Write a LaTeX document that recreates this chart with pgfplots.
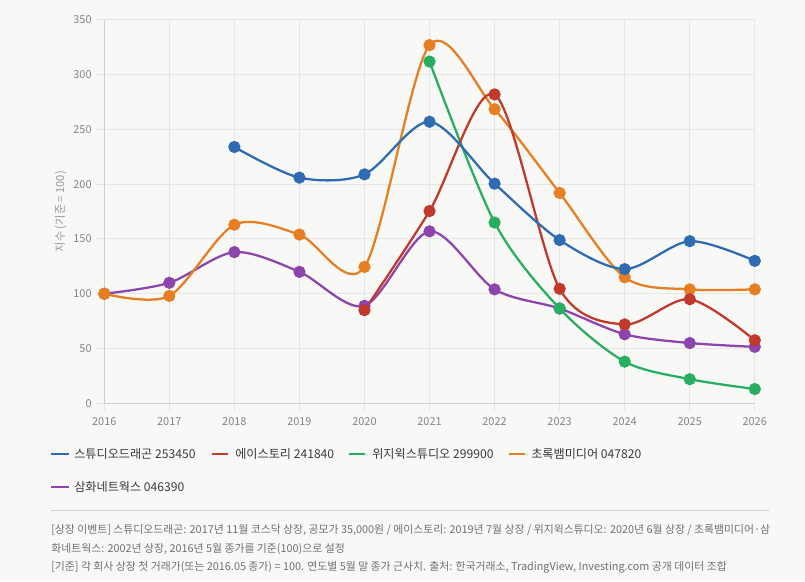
\documentclass[border=0pt]{standalone}
\usepackage{fontspec}
\setmainfont{Noto Sans CJK KR}
\usepackage{pgfplots}
\pgfplotsset{compat=1.18}
\definecolor{bg}{HTML}{F8F8F6}
\definecolor{gridgray}{HTML}{E6E6E4}
\definecolor{axisgray}{HTML}{CFCFCD}
\definecolor{tickgray}{HTML}{858585}
\definecolor{labgray}{HTML}{999999}
\definecolor{legtext}{HTML}{3A3A3A}
\definecolor{foot}{HTML}{707070}
\definecolor{cblue}{HTML}{2F6BB2}
\definecolor{cred}{HTML}{C0392B}
\definecolor{cgreen}{HTML}{27AE60}
\definecolor{corange}{HTML}{E67E22}
\definecolor{cpurple}{HTML}{8E44AD}
\begin{document}
\begin{tikzpicture}
\fill[bg] (0,0) rectangle (603.75pt,435.75pt);
\useasboundingbox (0,0) rectangle (603.75pt,435.75pt);
\begin{axis}[
  at={(78.2pt,133.3pt)}, anchor=south west,
  scale only axis, width=487.9pt, height=287.5pt,
  xmin=2016, xmax=2026, ymin=0, ymax=350,
  xtick={2016,2017,...,2026}, ytick={0,50,...,350},
  axis lines=left, axis line style={draw=axisgray, line width=0.75pt, -},
  grid=major, grid style={draw=gridgray, line width=0.75pt},
  major tick length=6pt, tick align=outside,
  tick style={draw=gridgray, line width=0.75pt},
  tick label style={font=\fontsize{8.2}{10}\selectfont, text=tickgray},
  /pgf/number format/assume math mode=true,
  xticklabel style={/pgf/number format/set thousands separator={}, yshift=-1pt},
  ylabel={지수 (기준 = 100)},
  ylabel style={at={(axis description cs:-0.067,0.5)}, anchor=center, font=\fontsize{8.4}{10}\selectfont, text=labgray},
  clip=false,
  every axis plot/.append style={smooth, tension=0.5, line width=1.7pt, mark=*, mark size=3.7pt},
]
\addplot[color=cpurple, mark options={fill=cpurple, draw=cpurple}] coordinates {
(2016,100) (2017,110) (2018,138) (2019,120) (2020,89) (2021,157) (2022,104) (2023,86.5) (2024,63) (2025,55) (2026,51.5)};
\addplot[color=corange, mark options={fill=corange, draw=corange}] coordinates {
(2016,100) (2017,98) (2018,163) (2019,154) (2020,124.5) (2021,327) (2022,268.5) (2023,192) (2024,115) (2025,104) (2026,104)};
\addplot[color=cgreen, mark options={fill=cgreen, draw=cgreen}] coordinates {
(2021,312) (2022,165) (2023,86.5) (2024,38) (2025,22) (2026,13)};
\addplot[color=cred, mark options={fill=cred, draw=cred}] coordinates {
(2020,85) (2021,175.5) (2022,282) (2023,104.5) (2024,72) (2025,95) (2026,57.5)};
\addplot[color=cblue, mark options={fill=cblue, draw=cblue}] coordinates {
(2018,234) (2019,206) (2020,209) (2021,257) (2022,200.5) (2023,149) (2024,122.5) (2025,148) (2026,130)};
\end{axis}
% legend
\begin{scope}[every node/.style={anchor=west, inner sep=0pt, font=\fontsize{9.1}{11}\selectfont, text=legtext}]
\draw[cblue, line width=2pt] (38.25pt,95.25pt) -- (51.75pt,95.25pt);
\node at (55.5pt,95.25pt) {스튜디오드래곤 253450};
\draw[cred, line width=2pt] (159pt,95.25pt) -- (171pt,95.25pt);
\node at (176.25pt,95.25pt) {에이스토리 241840};
\draw[cgreen, line width=2pt] (261.5pt,95.25pt) -- (273.5pt,95.25pt);
\node at (279pt,95.25pt) {위지윅스튜디오 299900};
\draw[corange, line width=2pt] (381.75pt,95.25pt) -- (393.5pt,95.25pt);
\node at (398.25pt,95.25pt) {초록뱀미디어 047820};
\draw[cpurple, line width=2pt] (38.25pt,70.5pt) -- (51.75pt,70.5pt);
\node at (55.5pt,70.5pt) {삼화네트웍스 046390};
\end{scope}
\draw[draw=axisgray, line width=0.75pt] (38.25pt,53.25pt) -- (576.75pt,53.25pt);
\begin{scope}[every node/.style={anchor=west, inner sep=0pt, font=\fontsize{8.15}{10}\selectfont, text=foot}]
\node at (38.25pt,38.25pt) {[상장 이벤트] 스튜디오드래곤: 2017년 11월 코스닥 상장, 공모가 35,000원 / 에이스토리: 2019년 7월 상장 / 위지윅스튜디오: 2020년 6월 상장 / 초록뱀미디어·삼};
\node at (38.25pt,24pt) {화네트웍스: 2002년 상장, 2016년 5월 종가를 기준(100)으로 설정};
\node at (38.25pt,10.5pt) {[기준] 각 회사 상장 첫 거래가(또는 2016.05 종가) = 100. 연도별 5월 말 종가 근사치. 출처: 한국거래소, TradingView, Investing.com 공개 데이터 조합};
\end{scope}
\end{tikzpicture}
\end{document}
